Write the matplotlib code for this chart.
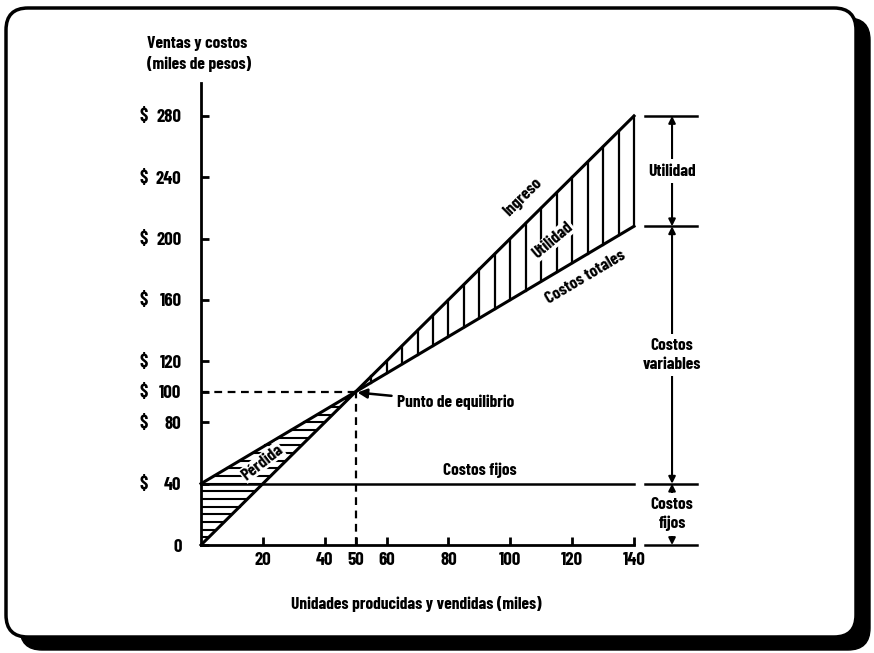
import numpy as np
import matplotlib
matplotlib.use("Agg")
import matplotlib.pyplot as plt
from matplotlib import font_manager
from matplotlib.patches import FancyBboxPatch
from matplotlib.transforms import IdentityTransform, blended_transform_factory

# ---------------- data ----------------
x_units = [0, 50, 140]                 # unidades (miles)
ingreso = [0, 100, 280]                # ventas (miles de pesos)
costos_totales = [40, 100, 208]
costos_fijos = [40, 40, 40]
punto_equilibrio = (50, 100)
x_ticks = [20, 40, 50, 60, 80, 100, 120, 140]
y_ticks = [0, 40, 80, 100, 120, 160, 200, 240, 280]
y_tick_labels = ["0", "40", "80", "100", "120", "160", "200", "240", "280"]
currency = "$"
hatch_step = 5
# right-hand brackets: levels and labels
bracket_levels = [280, 208, 40, 0]
bracket_labels = ["Utilidad", "Costos\nvariables", "Costos\nfijos"]

names = {f.name for f in font_manager.fontManager.ttflist}
fam = "DejaVu Sans"
for c in ["Barlow Condensed", "Roboto Condensed", "Asap Condensed"]:
    if c in names:
        fam = c
        break
plt.rcParams["font.family"] = [fam, "DejaVu Sans"]
plt.rcParams["font.weight"] = "bold"

W, H = 874, 653
fig = plt.figure(figsize=(W / 100, H / 100), dpi=100)
fig.patch.set_facecolor("white")

# page frame with shadow (pixel coordinates, origin bottom-left)
shadow = FancyBboxPatch((20, H - 650), 850, 632, boxstyle="round,pad=0,rounding_size=22",
                        transform=IdentityTransform(), facecolor="black", edgecolor="black", zorder=0)
front = FancyBboxPatch((6, H - 637), 850, 629, boxstyle="round,pad=0,rounding_size=22",
                       transform=IdentityTransform(), facecolor="white", edgecolor="black",
                       linewidth=2.5, zorder=1)
fig.add_artist(shadow)
fig.add_artist(front)

ax = fig.add_axes([201 / W, (H - 545) / H, 433 / W, (545 - 83) / H])
ax.set_zorder(2)
ax.patch.set_alpha(0)
ax.set_xlim(0, 140)
ax.set_ylim(0, 301.5)
for s in ["top", "right"]:
    ax.spines[s].set_visible(False)
for s in ["left", "bottom"]:
    ax.spines[s].set_linewidth(2.0)
fs = 12.5
tfs = 13.5
ax.set_xticks(x_ticks)
ax.set_xticklabels([str(t) for t in x_ticks])
ax.set_yticks(y_ticks)
ax.set_yticklabels(y_tick_labels)
ax.tick_params(axis="x", direction="in", length=6, width=2, labelsize=tfs, pad=5)
ax.tick_params(axis="y", direction="in", length=6, width=2, labelsize=tfs, pad=14)
for lab in ax.get_xticklabels() + ax.get_yticklabels():
    lab.set_fontweight("bold")
# currency sign, left-aligned column before the y tick numbers
trans_y = blended_transform_factory(fig.transFigure, ax.transData)
for t in y_ticks:
    if t != 0:
        ax.text(140 / W, t, currency, transform=trans_y, ha="left", va="center_baseline",
                fontsize=tfs, fontweight="bold", clip_on=False)

lw = 2.2
ax.plot(x_units, ingreso, color="black", lw=lw, clip_on=False)
ax.plot(x_units, costos_totales, color="black", lw=lw, clip_on=False)
ax.plot(x_units, costos_fijos, color="black", lw=1.8, clip_on=False)

# loss hatch (horizontal lines)
for yv in np.arange(hatch_step, punto_equilibrio[1], hatch_step):
    xl = np.interp(yv, costos_totales, x_units)
    xr = np.interp(yv, ingreso, x_units)
    if xr > xl:
        ax.plot([xl, xr], [yv, yv], color="black", lw=1.5)
# profit hatch (vertical lines)
for xv in np.arange(punto_equilibrio[0] + hatch_step, x_units[-1] + 0.1, hatch_step):
    ax.plot([xv, xv], [np.interp(xv, x_units, costos_totales), np.interp(xv, x_units, ingreso)],
            color="black", lw=1.6, clip_on=False)

# break-even dashed lines
bx, by = punto_equilibrio
ax.plot([0, bx], [by, by], color="black", lw=1.6, ls=(0, (3.5, 2.5)))
ax.plot([bx, bx], [0, by], color="black", lw=1.6, ls=(0, (3.5, 2.5)))

def angle(xs, ys):
    p = ax.transData.transform(np.column_stack([xs, ys]))
    return np.degrees(np.arctan2(p[1, 1] - p[0, 1], p[1, 0] - p[0, 0]))

a_rev = angle(x_units[::2], ingreso[::2])
a_cost = angle(x_units[::2], costos_totales[::2])
ax.text(104, 227, "Ingreso", rotation=a_rev, ha="center", va="center", fontsize=fs, fontweight="bold")
ax.text(113.8, 199, "Utilidad", rotation=40, ha="center", va="center", fontsize=fs, fontweight="bold",
        bbox=dict(facecolor="white", edgecolor="none", pad=0.5))
ax.text(124.2, 175, "Costos totales", rotation=a_cost, ha="center", va="center", fontsize=fs, fontweight="bold")
ax.text(19.7, 54, "Pérdida", rotation=38, ha="center", va="center", fontsize=fs, fontweight="bold",
        bbox=dict(facecolor="white", edgecolor="none", pad=0.5))
ax.text(90.2, 48.5, "Costos fijos", ha="center", va="center", fontsize=fs, fontweight="bold")
ax.annotate("Punto de equilibrio", xy=(bx + 0.6, by - 0.5), xytext=(63.4, 93.3),
            ha="left", va="center", fontsize=fs, fontweight="bold",
            arrowprops=dict(arrowstyle="-|>", color="black", lw=1.8, mutation_scale=14,
                            shrinkA=2, shrinkB=0))

# axis titles
ax.text(-17.5, 327, "Ventas y costos", ha="left", va="center", fontsize=fs, fontweight="bold", clip_on=False)
ax.text(-17.5, 314, "(miles de pesos)", ha="left", va="center", fontsize=fs, fontweight="bold", clip_on=False)
ax.text(69.5, -38.5, "Unidades producidas y vendidas (miles)", ha="center", va="center",
        fontsize=fs, fontweight="bold", clip_on=False)

# right-hand brackets
bx0, bx1, bxa = 143.5, 160.4, 152.3
for lv in bracket_levels:
    ax.plot([bx0, bx1], [lv, lv], color="black", lw=1.8, clip_on=False)
for i, lab in enumerate(bracket_labels):
    top, bot = bracket_levels[i], bracket_levels[i + 1]
    ax.annotate("", xy=(bxa, top), xytext=(bxa, bot),
                arrowprops=dict(arrowstyle="<|-|>", color="black", lw=1.5, mutation_scale=10,
                                shrinkA=0, shrinkB=0), annotation_clip=False)
    ax.text(bxa, (top + bot) / 2, lab, ha="center", va="center",
            fontsize=fs, fontweight="bold", linespacing=1.3, clip_on=False,
            bbox=dict(facecolor="white", edgecolor="none", pad=3))

fig.savefig("out.png", dpi=100, facecolor="white")
